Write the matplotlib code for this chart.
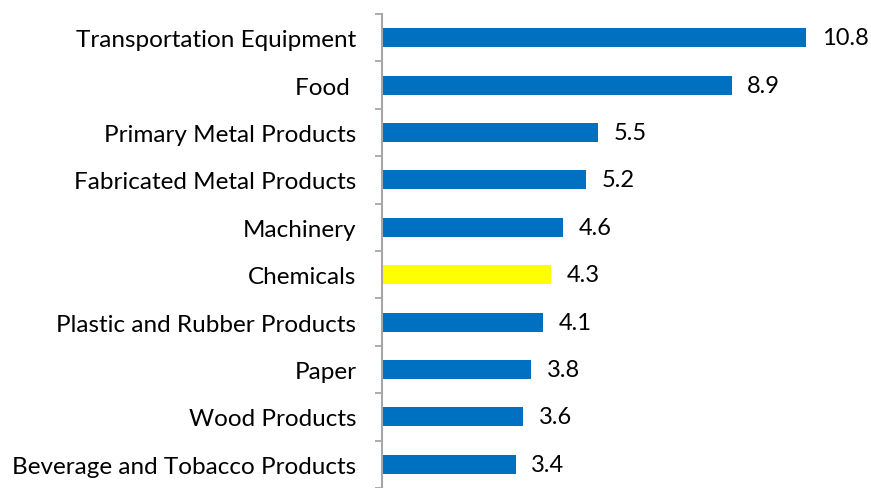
import matplotlib
matplotlib.use("Agg")
import matplotlib.pyplot as plt

# data, bottom to top
categories = ["Beverage and Tobacco Products", "Wood Products", "Paper",
              "Plastic and Rubber Products", "Chemicals", "Machinery",
              "Fabricated Metal Products", "Primary Metal Products", "Food ",
              "Transportation Equipment"]
values = [3.4, 3.6, 3.8, 4.1, 4.3, 4.6, 5.2, 5.5, 8.9, 10.8]
highlight = "Chemicals"

plt.rcParams['font.family'] = ['Lato', 'DejaVu Sans']

fig = plt.figure(figsize=(8.71, 4.89), dpi=100)
ax = fig.add_axes([382/871, 0, 1 - 382/871, 1 - 15/489])

colors = ['#FFFF00' if c == highlight else '#0070C0' for c in categories]
pos = range(len(categories))
ax.barh(pos, values, height=0.4, color=colors)

for p, v in zip(pos, values):
    ax.text(v + 0.4, p, f"{v:.1f}", va='center', ha='left', fontsize=17, color='#000000')

ax.set_xlim(0, 12.45)
ax.set_ylim(-0.375, 9.5)

ax.set_yticks(list(pos))
ax.set_yticklabels(categories, fontsize=17.5, color='#000000')
ax.tick_params(axis='y', which='major', length=0, pad=18.5)
ax.set_yticks([i + 0.5 for i in range(-1, len(categories))], minor=True)
ax.tick_params(axis='y', which='minor', length=5, width=1.3, color='#A6A6A6')

ax.set_xticks([])
for s in ['top', 'right', 'bottom']:
    ax.spines[s].set_visible(False)
ax.spines['left'].set_color('#A6A6A6')
ax.spines['left'].set_linewidth(1.5)

fig.savefig("out.png", dpi=100)
